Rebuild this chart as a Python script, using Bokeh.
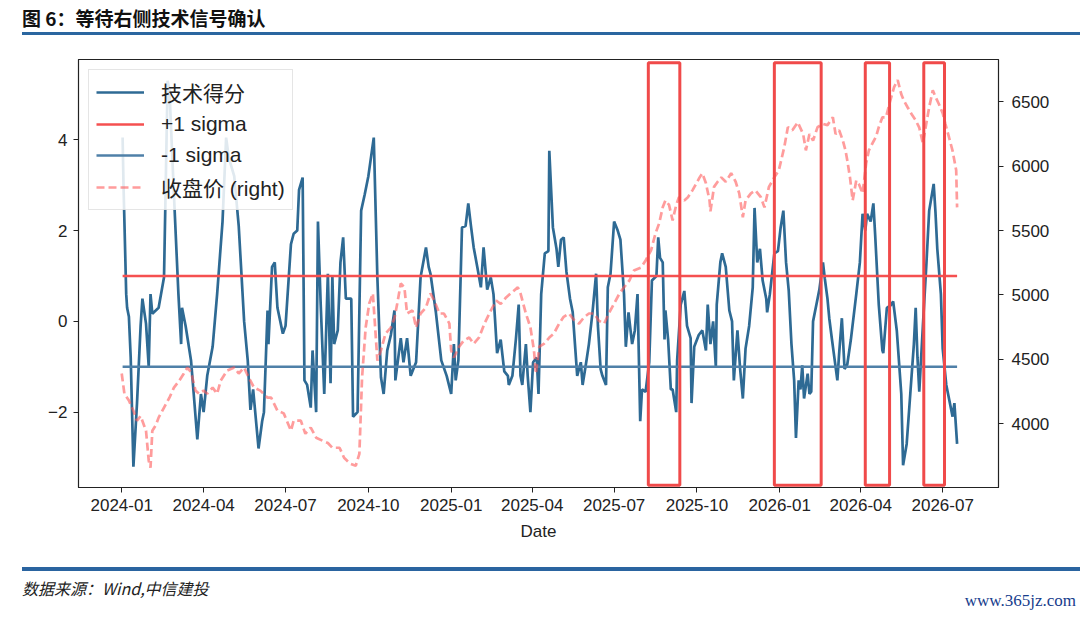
import pandas as pd
from bokeh.plotting import figure
from bokeh.layouts import column
from bokeh.models import (Range1d, LinearAxis, FixedTicker, DatetimeTickFormatter, Legend,
                          LegendItem, BoxAnnotation, ColumnDataSource, Div)
from bokeh.embed import file_html
from bokeh.resources import INLINE

# ---------------- data ----------------
score_dates = [
    "2024-01-02", "2024-01-03", "2024-01-06", "2024-01-07", "2024-01-09", "2024-01-11", "2024-01-14",
    "2024-01-18", "2024-01-22", "2024-01-24", "2024-01-28", "2024-01-31", "2024-02-02", "2024-02-04",
    "2024-02-11", "2024-02-17", "2024-02-21", "2024-02-23", "2024-02-28", "2024-03-04", "2024-03-07",
    "2024-03-08", "2024-03-12", "2024-03-18", "2024-03-21", "2024-03-25", "2024-03-29", "2024-04-01",
    "2024-04-05", "2024-04-11", "2024-04-16", "2024-04-22", "2024-04-26", "2024-04-29", "2024-05-05",
    "2024-05-10", "2024-05-16", "2024-05-20", "2024-05-23", "2024-05-26", "2024-06-01", "2024-06-05",
    "2024-06-07", "2024-06-11", "2024-06-12", "2024-06-16", "2024-06-19", "2024-06-22", "2024-06-28",
    "2024-07-01", "2024-07-07", "2024-07-10", "2024-07-14", "2024-07-16", "2024-07-20", "2024-07-22",
    "2024-07-25", "2024-07-29", "2024-07-31", "2024-08-04", "2024-08-06", "2024-08-09", "2024-08-13",
    "2024-08-17", "2024-08-20", "2024-08-22", "2024-08-24", "2024-08-28", "2024-08-31", "2024-09-03",
    "2024-09-06", "2024-09-12", "2024-09-14", "2024-09-19", "2024-09-23", "2024-09-27", "2024-10-01",
    "2024-10-07", "2024-10-11", "2024-10-15", "2024-10-18", "2024-10-22", "2024-10-26", "2024-10-30",
    "2024-10-31", "2024-11-06", "2024-11-09", "2024-11-13", "2024-11-17", "2024-11-23", "2024-11-28",
    "2024-12-04", "2024-12-07", "2024-12-09", "2024-12-15", "2024-12-21", "2024-12-27",
    "2025-01-01", "2025-01-04", "2025-01-06", "2025-01-09", "2025-01-13", "2025-01-17", "2025-01-20",
    "2025-01-23", "2025-01-26", "2025-01-30", "2025-02-03", "2025-02-06", "2025-02-10", "2025-02-14",
    "2025-02-17", "2025-02-21", "2025-02-25", "2025-03-01", "2025-03-05", "2025-03-06", "2025-03-10",
    "2025-03-14", "2025-03-17", "2025-03-19", "2025-03-21", "2025-03-25", "2025-03-27", "2025-03-30",
    "2025-04-02", "2025-04-06", "2025-04-08", "2025-04-11", "2025-04-15", "2025-04-19", "2025-04-20",
    "2025-04-24", "2025-04-28", "2025-04-30", "2025-05-03", "2025-05-06", "2025-05-09", "2025-05-13",
    "2025-05-16", "2025-05-19", "2025-05-21", "2025-05-25", "2025-05-27", "2025-05-31", "2025-06-03",
    "2025-06-07", "2025-06-11", "2025-06-13", "2025-06-16", "2025-06-18", "2025-06-22", "2025-06-24",
    "2025-06-27", "2025-07-01", "2025-07-05", "2025-07-08", "2025-07-12", "2025-07-14", "2025-07-17",
    "2025-07-21", "2025-07-24", "2025-07-27", "2025-07-30", "2025-08-01", "2025-08-05", "2025-08-09",
    "2025-08-12", "2025-08-17", "2025-08-19", "2025-08-21", "2025-08-24", "2025-08-26", "2025-08-27",
    "2025-08-30", "2025-09-02", "2025-09-04", "2025-09-08", "2025-09-09", "2025-09-13", "2025-09-17",
    "2025-09-20", "2025-09-24", "2025-09-25", "2025-09-28", "2025-10-03", "2025-10-07", "2025-10-11",
    "2025-10-13", "2025-10-16", "2025-10-19", "2025-10-22", "2025-10-23", "2025-10-27", "2025-10-29",
    "2025-11-02", "2025-11-06", "2025-11-09", "2025-11-11", "2025-11-15", "2025-11-18", "2025-11-21",
    "2025-11-24", "2025-11-28", "2025-12-02", "2025-12-04", "2025-12-07", "2025-12-10", "2025-12-13",
    "2025-12-17", "2025-12-18", "2025-12-21", "2025-12-26", "2025-12-30",
    "2026-01-02", "2026-01-05", "2026-01-08", "2026-01-11", "2026-01-14", "2026-01-17", "2026-01-19",
    "2026-01-22", "2026-01-24", "2026-01-26", "2026-01-28", "2026-02-01", "2026-02-03", "2026-02-05",
    "2026-02-07", "2026-02-11", "2026-02-14", "2026-02-18", "2026-02-20", "2026-02-23", "2026-02-25",
    "2026-02-28", "2026-03-02", "2026-03-06", "2026-03-08", "2026-03-11", "2026-03-14", "2026-03-17",
    "2026-03-21", "2026-03-27", "2026-03-31", "2026-04-03", "2026-04-06", "2026-04-08", "2026-04-12",
    "2026-04-15", "2026-04-17", "2026-04-21", "2026-04-25", "2026-04-26", "2026-04-30", "2026-05-04",
    "2026-05-07", "2026-05-11", "2026-05-16", "2026-05-18", "2026-05-22", "2026-05-26", "2026-05-30",
    "2026-06-01", "2026-06-03", "2026-06-05", "2026-06-09", "2026-06-13", "2026-06-16", "2026-06-21",
    "2026-06-23", "2026-06-25", "2026-06-29", "2026-07-01", "2026-07-05", "2026-07-07", "2026-07-12",
    "2026-07-14", "2026-07-17",
]
score_values = [
    4.05, 3.0, 0.6, 0.3, 0.1, -0.8, -3.2,
    -1.8, -0.1, 0.5, -0.05, -1.0, 0.6, 0.17,
    0.3, 0.97, 5.3, 5.1, 2.8, 0.6, -0.5,
    0.3, -0.1, -0.86, -1.6, -2.6, -1.6, -2.0,
    -1.2, -0.56, 0.6, 2.2, 4.05, 3.6, 3.2,
    2.1, 0.0, -0.86, -1.95, -1.5, -2.8, -2.2,
    -2.0, 0.24, -0.5, 1.2, 1.3, 0.3, -0.27,
    -0.1, 1.7, 1.93, 2.0, 2.9, 3.17, -1.3,
    -1.4, -1.9, -0.64, -2.0, 2.2, 0.4, -1.6,
    1.05, -1.36, 1.0, -0.5, -0.2, 1.3, 1.85,
    0.5, 0.5, -2.1, -2.0, 2.44, 2.8, 3.2,
    4.05, 0.97, -1.23, -1.6, -0.64, -0.3, 0.24,
    -1.3, -0.37, -0.9, -0.37, -1.2, -0.9, 0.97,
    1.63, 1.2, 1.05, 0.2, -0.86, -1.2,
    -1.6, -0.5, -1.3, -0.86, 2.07, 2.1, 2.6,
    2.1, 1.63, 1.2, 0.75, 1.63, 0.7, 0.97,
    0.6, -0.7, -0.4, -1.1, -1.2, -1.4, -1.2,
    -0.37, 0.37, -1.2, -1.4, -0.5, -1.2, -2.0,
    -0.9, -0.8, -1.6, 0.6, 1.5, 1.55, 3.76,
    2.07, 1.6, 1.2, 1.8, 1.85, 1.1, 0.5,
    0.2, -0.64, -1.2, -0.9, -1.4, -0.9, -0.5,
    0.2, 1.05, -0.1, -1.05, -1.2, -1.4, 0.75,
    1.05, 2.2, 2.0, 1.8, 0.6, -0.56, 0.2,
    -0.5, -0.2, 0.6, -2.2, -1.5, -1.55, -0.9,
    0.9, 1.0, 1.85, 1.4, 1.3, -0.4, 0.24,
    -0.4, -1.5, -1.5, -2.0, -0.86, 0.37, 0.67,
    -0.1, -0.37, -1.8, -0.56, -0.3, -0.2, -0.64,
    0.37, -0.5, 0.0, -1.0, 0.37, 1.3, 1.5,
    1.2, 0.24, 0.0, -1.3, -0.2, -1.05, -1.7,
    -0.6, -0.1, 0.75, 2.5, 1.3, 1.6, 0.9,
    0.5, 0.2, 0.6, 1.5, 1.55,
    2.07, 2.44, 1.3, 0.67, -0.5, -1.3, -2.57,
    -1.3, -1.5, -0.97, -1.7, -1.15, -1.6, -1.55,
    0.0, 0.4, 0.7, 1.3, 0.95, 0.5, 0.07,
    -0.4, -0.7, -1.3, -0.7, 0.07, -1.05, -0.95,
    -0.4, 0.6, 1.3, 2.37, 2.0, 2.37, 2.2,
    2.6, 1.9, 0.37, -0.64, -0.7, 0.3, 0.35,
    0.44, -0.2, -1.6, -3.17, -2.7, -1.6, -0.5,
    0.3, -0.8, -1.55, -0.1, 1.3, 2.44, 3.03,
    2.4, 1.6, 0.6, -0.6, -1.4, -1.6, -2.1,
    -1.8, -2.7,
]

price_dates = [
    "2024-01-01", "2024-01-04", "2024-01-09", "2024-01-14", "2024-01-18", "2024-01-22", "2024-01-28",
    "2024-01-31", "2024-02-02", "2024-02-04", "2024-02-08", "2024-02-11", "2024-02-17", "2024-02-23",
    "2024-02-28", "2024-03-05", "2024-03-10", "2024-03-14", "2024-03-18", "2024-03-23", "2024-03-27",
    "2024-04-01", "2024-04-05", "2024-04-11", "2024-04-16", "2024-04-20", "2024-04-27", "2024-05-05",
    "2024-05-10", "2024-05-16", "2024-05-21", "2024-05-27", "2024-06-03", "2024-06-11", "2024-06-15",
    "2024-06-22", "2024-06-29", "2024-07-07", "2024-07-10", "2024-07-18", "2024-07-23", "2024-07-29",
    "2024-08-04", "2024-08-11", "2024-08-17", "2024-08-22", "2024-08-30", "2024-09-04", "2024-09-11",
    "2024-09-17", "2024-09-21", "2024-09-24", "2024-09-28", "2024-10-02", "2024-10-06", "2024-10-09",
    "2024-10-11", "2024-10-15", "2024-10-20", "2024-10-26", "2024-10-30", "2024-11-02", "2024-11-06",
    "2024-11-10", "2024-11-13", "2024-11-19", "2024-11-23", "2024-11-28", "2024-12-04", "2024-12-09",
    "2024-12-13", "2024-12-19", "2024-12-24", "2024-12-30",
    "2025-01-01", "2025-01-04", "2025-01-10", "2025-01-15", "2025-01-21", "2025-01-26", "2025-02-01",
    "2025-02-07", "2025-02-14", "2025-02-20", "2025-02-25", "2025-03-03", "2025-03-08", "2025-03-16",
    "2025-03-19", "2025-03-25", "2025-03-30", "2025-04-03", "2025-04-05", "2025-04-09", "2025-04-14",
    "2025-04-20", "2025-04-25", "2025-05-01", "2025-05-06", "2025-05-12", "2025-05-18", "2025-05-23",
    "2025-05-29", "2025-06-03", "2025-06-09", "2025-06-14", "2025-06-20", "2025-06-25", "2025-07-01",
    "2025-07-07", "2025-07-12", "2025-07-18", "2025-07-23", "2025-07-31", "2025-08-05", "2025-08-11",
    "2025-08-16", "2025-08-20", "2025-08-24", "2025-08-27", "2025-08-31", "2025-09-04", "2025-09-08",
    "2025-09-11", "2025-09-17", "2025-09-21", "2025-09-26", "2025-10-04", "2025-10-07", "2025-10-11",
    "2025-10-15", "2025-10-16", "2025-10-20", "2025-10-24", "2025-10-28", "2025-11-02", "2025-11-08",
    "2025-11-13", "2025-11-17", "2025-11-21", "2025-11-24", "2025-11-30", "2025-12-05", "2025-12-11",
    "2025-12-15", "2025-12-20", "2025-12-26", "2025-12-31",
    "2026-01-06", "2026-01-10", "2026-01-15", "2026-01-21", "2026-01-27", "2026-01-30", "2026-02-03",
    "2026-02-07", "2026-02-12", "2026-02-18", "2026-02-23", "2026-03-01", "2026-03-04", "2026-03-08",
    "2026-03-12", "2026-03-15", "2026-03-17", "2026-03-20", "2026-03-23", "2026-03-27", "2026-03-30",
    "2026-04-03", "2026-04-07", "2026-04-10", "2026-04-14", "2026-04-18", "2026-04-21", "2026-04-25",
    "2026-04-29", "2026-05-03", "2026-05-08", "2026-05-12", "2026-05-16", "2026-05-19", "2026-05-23",
    "2026-05-27", "2026-06-01", "2026-06-05", "2026-06-09", "2026-06-12", "2026-06-16", "2026-06-20",
    "2026-06-23", "2026-06-27", "2026-07-01", "2026-07-04", "2026-07-08", "2026-07-12", "2026-07-16",
    "2026-07-17",
]
price_values = [
    4390, 4233, 4180, 4100, 4023, 4060, 3945,
    3712, 3658, 3945, 3990, 4047, 4125, 4202,
    4280, 4335, 4390, 4436, 4400, 4257, 4233,
    4257, 4233, 4280, 4233, 4335, 4412, 4436,
    4390, 4436, 4360, 4280, 4257, 4202, 4202,
    4101, 4080, 3945, 4023, 4023, 3922, 3970,
    3891, 3868, 3850, 3813, 3813, 3735, 3689,
    3673, 3766, 4358, 4747, 4934, 5012, 4700,
    4490, 4570, 4700, 4747, 4820, 4930, 5089,
    5060, 4856, 4880, 4747, 4856, 4903, 5012,
    4960, 4856, 4856, 4778,
    4568, 4514, 4600, 4646, 4670, 4620, 4670,
    4778, 4879, 4957, 4930, 4981, 5012, 5059,
    5012, 4856, 4750, 4568, 4389, 4600, 4620,
    4669, 4700, 4778, 4830, 4856, 4800, 4778,
    4830, 4856, 4856, 4800, 4778, 4856, 4934,
    5012, 5059, 5113, 5190, 5214, 5268, 5346,
    5479, 5556, 5681, 5735, 5700, 5580, 5700,
    5760, 5735, 5760, 5813, 5914, 5946, 5868,
    5735, 5650, 5840, 5880, 5914, 5880, 5946,
    5880, 5790, 5603, 5735, 5790, 5813, 5760,
    5681, 5840, 5914, 5970,
    6148, 6304, 6280, 6342, 6250, 6124, 6250,
    6200, 6304, 6330, 6320, 6381, 6250, 6280,
    6202, 6124, 6047, 5914, 5735, 5890, 5860,
    5790, 6023, 6124, 6179, 6230, 6304, 6381,
    6381, 6490, 6615, 6670, 6560, 6510, 6459,
    6410, 6358, 6300, 6179, 6300, 6459, 6591,
    6540, 6480, 6412, 6330, 6226, 6120, 5969,
    5681,
]

sigma_plus = 1.0
sigma_minus = -1.0

highlight_starts = ["2025-08-08", "2025-12-26", "2026-04-06", "2026-06-10"]
highlight_ends = ["2025-09-12", "2026-02-16", "2026-05-03", "2026-07-03"]

x_tick_dates = ["2024-01-01", "2024-04-01", "2024-07-01", "2024-10-01", "2025-01-01", "2025-04-01",
                "2025-07-01", "2025-10-01", "2026-01-01", "2026-04-01", "2026-07-01"]
left_ticks = [-2, 0, 2, 4]
right_ticks = [4000, 4500, 5000, 5500, 6000, 6500]

title_text = "图 6：等待右侧技术信号确认"
source_text = "数据来源：Wind,中信建投"
watermark_text = "www.365jz.com"
legend_labels = ["技术得分", "+1 sigma", "-1 sigma", "收盘价 (right)"]

# ---------------- figure ----------------
FONT = "Liberation Sans, Noto Sans CJK SC"

sd = pd.to_datetime(score_dates)
src_score = ColumnDataSource(dict(x=sd, y=score_values))
src_price = ColumnDataSource(dict(x=pd.to_datetime(price_dates), y=price_values))
src_up = ColumnDataSource(dict(x=[sd[0], sd[-1]], y=[sigma_plus, sigma_plus]))
src_dn = ColumnDataSource(dict(x=[sd[0], sd[-1]], y=[sigma_minus, sigma_minus]))

HEADER_H = 50
FIG_H = 505
FOOTER_H = 617 - HEADER_H - FIG_H

p = figure(width=1080, height=FIG_H, x_axis_type="datetime", output_backend="svg",
           toolbar_location=None,
           x_range=Range1d(pd.Timestamp("2023-11-14"), pd.Timestamp("2026-09-01")),
           y_range=Range1d(-3.66, 5.77),
           min_border_left=78, min_border_right=82, min_border_top=9, min_border_bottom=68)
p.extra_y_ranges = {"price": Range1d(3504, 6830)}
p.xgrid.grid_line_color = None
p.ygrid.grid_line_color = None
p.outline_line_color = "#222222"
p.outline_line_width = 1.2
p.background_fill_color = "white"
p.border_fill_color = "white"

r_score = p.line("x", "y", source=src_score, line_color="#2e6a94", line_width=2.7)
r_up = p.line("x", "y", source=src_up, line_color="#f55050", line_width=2.7)
r_dn = p.line("x", "y", source=src_dn, line_color="#4f80a8", line_width=2.7)
r_price = p.line("x", "y", source=src_price, y_range_name="price", line_color="#ff5a5a",
                 line_alpha=0.6, line_width=2.7, line_dash="8 4")

right_axis = LinearAxis(y_range_name="price", ticker=FixedTicker(ticks=right_ticks))
p.add_layout(right_axis, "right")

p.xaxis.ticker = FixedTicker(ticks=[pd.Timestamp(d).value // 10**6 for d in x_tick_dates])
p.xaxis.formatter = DatetimeTickFormatter(days="%Y-%m", months="%Y-%m", years="%Y-%m",
                                          hours="%Y-%m", minutes="%Y-%m")
p.yaxis[0].ticker = FixedTicker(ticks=left_ticks)
p.yaxis[0].major_label_overrides = {t: ("\u2212" + str(abs(t)) if t < 0 else str(t)) for t in left_ticks}
p.xaxis.axis_label = "Date"

for ax in [p.xaxis[0], p.yaxis[0], right_axis]:
    ax.axis_line_color = "#222222"
    ax.major_tick_line_color = "#222222"
    ax.minor_tick_line_color = None
    ax.major_tick_out = 5
    ax.major_tick_in = 0
    ax.major_label_text_font = "Liberation Sans"
    ax.major_label_text_font_size = "17px"
    ax.major_label_text_color = "#222222"
    ax.axis_label_text_font = "Liberation Sans"
    ax.axis_label_text_font_size = "17px"
    ax.axis_label_text_font_style = "normal"
    ax.axis_label_text_color = "#222222"
p.xaxis.major_label_standoff = 6
p.xaxis.axis_label_standoff = 8
p.yaxis[0].major_label_standoff = 6
right_axis.major_label_standoff = 8

# highlight boxes (annotation marks around signal periods)
for s, e in zip(highlight_starts, highlight_ends):
    p.add_layout(BoxAnnotation(left=pd.Timestamp(s).value // 10**6, right=pd.Timestamp(e).value // 10**6,
                               top=5.70, bottom=-3.61, fill_alpha=0, line_color="#f04a4a",
                               line_width=3, line_alpha=1))

legend = Legend(items=[LegendItem(label=legend_labels[0], renderers=[r_score]),
                       LegendItem(label=legend_labels[1], renderers=[r_up]),
                       LegendItem(label=legend_labels[2], renderers=[r_dn]),
                       LegendItem(label=legend_labels[3], renderers=[r_price])],
                location="top_left")
legend.margin = 10
legend.padding = 7
legend.spacing = 3
legend.glyph_width = 48
legend.glyph_height = 28
legend.label_height = 28
legend.label_standoff = 17
legend.label_text_font = FONT
legend.label_text_font_size = "21px"
legend.label_text_color = "#222222"
legend.border_line_color = "#cccccc"
legend.border_line_width = 1
legend.background_fill_alpha = 0.85
p.add_layout(legend)

# ---------------- header / footer ----------------
header_html = (
    f'<div style="position:relative;width:1080px;height:{HEADER_H}px;background:#fff;">'
    '<div style="position:absolute;left:22px;top:5px;line-height:26px;font-family:\'Noto Sans CJK SC\',sans-serif;'
    f'font-size:19px;font-weight:bold;color:#111;white-space:nowrap;">{title_text}</div>'
    '<div style="position:absolute;left:22px;top:32px;width:1058px;height:3px;background:#2a66a0;"></div>'
    '</div>'
)
footer_html = (
    f'<div style="position:relative;width:1080px;height:{FOOTER_H}px;background:#fff;">'
    '<div style="position:absolute;left:22px;top:12px;width:1058px;height:4px;background:#2a64a0;"></div>'
    '<div style="position:absolute;left:22px;top:21px;line-height:24px;font-family:\'Noto Sans CJK SC\',sans-serif;'
    f'font-size:16px;font-style:italic;color:#222;white-space:nowrap;">{source_text}</div>'
    '<div style="position:absolute;right:4px;top:34px;line-height:24px;font-family:\'Liberation Serif\',serif;'
    f'font-size:17px;color:#163c8c;white-space:nowrap;">{watermark_text}</div>'
    '</div>'
)
header = Div(text=header_html, width=1080, height=HEADER_H, margin=0)
footer = Div(text=footer_html, width=1080, height=FOOTER_H, margin=0)

layout = column(header, p, footer, spacing=0)
open("out.html", "w").write(file_html(layout, INLINE))
